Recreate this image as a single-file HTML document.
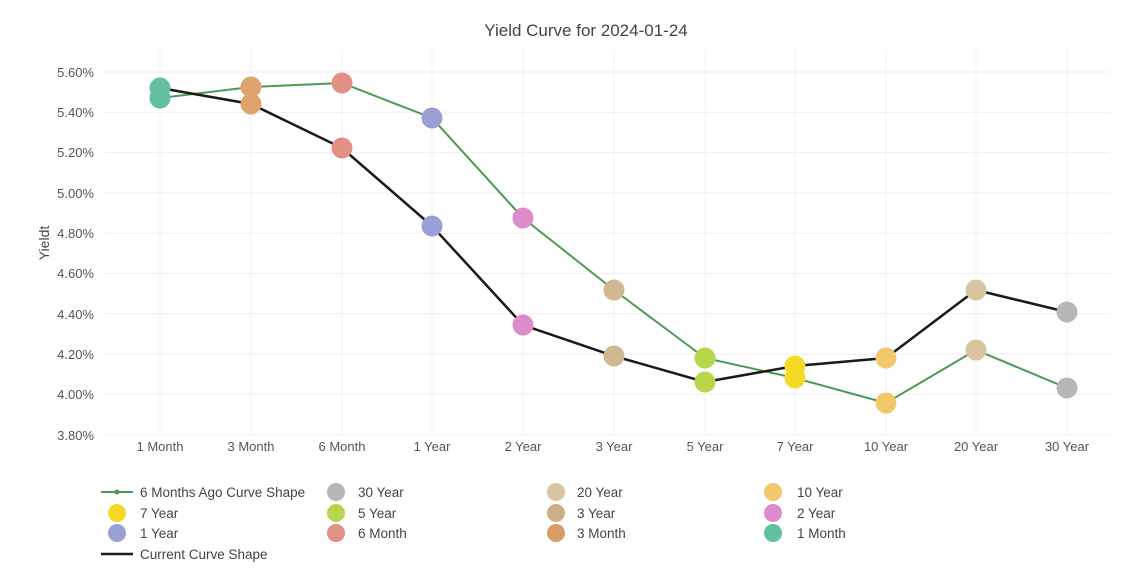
<!DOCTYPE html>
<html><head><meta charset="utf-8"><style>
html,body{margin:0;padding:0;background:#fff;}
svg{display:block;}
text{font-family:"Liberation Sans",Arial,sans-serif;}
</style></head><body>
<svg width="1122" height="586" viewBox="0 0 1122 586" xmlns="http://www.w3.org/2000/svg">
<rect width="1122" height="586" fill="#fff"/>
<text x="586" y="36" text-anchor="middle" font-size="17" fill="#444">Yield Curve for 2024-01-24</text>
<g stroke="#f1eef0" stroke-width="1">
<line x1="105" x2="1110" y1="72" y2="72"/>
<line x1="105" x2="1110" y1="112.3" y2="112.3"/>
<line x1="105" x2="1110" y1="152.6" y2="152.6"/>
<line x1="105" x2="1110" y1="192.9" y2="192.9"/>
<line x1="105" x2="1110" y1="233.2" y2="233.2"/>
<line x1="105" x2="1110" y1="273.5" y2="273.5"/>
<line x1="105" x2="1110" y1="313.8" y2="313.8"/>
<line x1="105" x2="1110" y1="354.1" y2="354.1"/>
<line x1="105" x2="1110" y1="394.4" y2="394.4"/>
<line x1="105" x2="1110" y1="434.7" y2="434.7"/>
</g>
<g stroke="#f6eff3" stroke-width="1">
<line x1="160" x2="160" y1="50" y2="435"/>
<line x1="251" x2="251" y1="50" y2="435"/>
<line x1="342" x2="342" y1="50" y2="435"/>
<line x1="432" x2="432" y1="50" y2="435"/>
<line x1="523" x2="523" y1="50" y2="435"/>
<line x1="614" x2="614" y1="50" y2="435"/>
<line x1="705" x2="705" y1="50" y2="435"/>
<line x1="795" x2="795" y1="50" y2="435"/>
<line x1="886" x2="886" y1="50" y2="435"/>
<line x1="976" x2="976" y1="50" y2="435"/>
<line x1="1067" x2="1067" y1="50" y2="435"/>
</g>
<g font-size="13" fill="#555" text-anchor="end">
<text x="94" y="77">5.60%</text>
<text x="94" y="117">5.40%</text>
<text x="94" y="157">5.20%</text>
<text x="94" y="198">5.00%</text>
<text x="94" y="238">4.80%</text>
<text x="94" y="278">4.60%</text>
<text x="94" y="319">4.40%</text>
<text x="94" y="359">4.20%</text>
<text x="94" y="399">4.00%</text>
<text x="94" y="440">3.80%</text>
</g>
<text transform="translate(49,243) rotate(-90)" text-anchor="middle" font-size="14" fill="#444">Yieldt</text>
<g font-size="13" fill="#555" text-anchor="middle">
<text x="160" y="451">1 Month</text>
<text x="251" y="451">3 Month</text>
<text x="342" y="451">6 Month</text>
<text x="432" y="451">1 Year</text>
<text x="523" y="451">2 Year</text>
<text x="614" y="451">3 Year</text>
<text x="705" y="451">5 Year</text>
<text x="795" y="451">7 Year</text>
<text x="886" y="451">10 Year</text>
<text x="976" y="451">20 Year</text>
<text x="1067" y="451">30 Year</text>
</g>
<polyline fill="none" stroke="#4b9a52" stroke-width="2" points="160,98 251,87 342,83 432,118 523,218 614,290 705,358 795,378 886,403 976,350 1067,388"/>
<polyline fill="none" stroke="#1a1a1a" stroke-width="2.5" points="160,88 251,104 342,148 432,226 523,325 614,356 705,382 795,366 886,358 976,290 1067,312"/>
<g>
<circle cx="1067" cy="312" r="10.5" fill="#b7b7b9"/>
<circle cx="1067" cy="388" r="10.5" fill="#b7b7b9"/>
<circle cx="976" cy="290" r="10.5" fill="#d8c4a0"/>
<circle cx="976" cy="350" r="10.5" fill="#d8c4a0"/>
<circle cx="886" cy="358" r="10.5" fill="#f3c86a"/>
<circle cx="886" cy="403" r="10.5" fill="#f3c86a"/>
<circle cx="795" cy="366" r="10.5" fill="#f5d927"/>
<circle cx="795" cy="378" r="10.5" fill="#f5d927"/>
<circle cx="705" cy="358" r="10.5" fill="#b8d64a"/>
<circle cx="705" cy="382" r="10.5" fill="#b8d64a"/>
<circle cx="614" cy="290" r="10.5" fill="#d1b890"/>
<circle cx="614" cy="356" r="10.5" fill="#d1b890"/>
<circle cx="523" cy="218" r="10.5" fill="#dc8ccb"/>
<circle cx="523" cy="325" r="10.5" fill="#dc8ccb"/>
<circle cx="432" cy="118" r="10.5" fill="#9a9fd6"/>
<circle cx="432" cy="226" r="10.5" fill="#9a9fd6"/>
<circle cx="342" cy="83" r="10.5" fill="#e28f86"/>
<circle cx="342" cy="148" r="10.5" fill="#e28f86"/>
<circle cx="251" cy="87" r="10.5" fill="#dea46c"/>
<circle cx="251" cy="104" r="10.5" fill="#dea46c"/>
<circle cx="160" cy="88" r="10.5" fill="#62bfa0"/>
<circle cx="160" cy="98" r="10.5" fill="#62bfa0"/>
</g>
<g font-size="13.5" fill="#444">
<line x1="101" x2="133" y1="492" y2="492" stroke="#4b9a52" stroke-width="2"/>
<circle cx="117" cy="492" r="2.5" fill="#4b9a52"/>
<text x="140" y="497">6 Months Ago Curve Shape</text>
<circle cx="117" cy="513" r="9" fill="#f5d927"/>
<text x="140" y="518">7 Year</text>
<circle cx="117" cy="533" r="9" fill="#9a9fd6"/>
<text x="140" y="538">1 Year</text>
<line x1="101" x2="133" y1="554" y2="554" stroke="#1a1a1a" stroke-width="2.5"/>
<text x="140" y="559">Current Curve Shape</text>

<circle cx="336" cy="492" r="9" fill="#b7b7b9"/>
<text x="358" y="497">30 Year</text>
<circle cx="336" cy="513" r="9" fill="#b8d64a"/>
<text x="358" y="518">5 Year</text>
<circle cx="336" cy="533" r="9" fill="#e28f86"/>
<text x="358" y="538">6 Month</text>

<circle cx="556" cy="492" r="9" fill="#d8c4a0"/>
<text x="577" y="497">20 Year</text>
<circle cx="556" cy="513" r="9" fill="#cdb088"/>
<text x="577" y="518">3 Year</text>
<circle cx="556" cy="533" r="9" fill="#d89e6a"/>
<text x="577" y="538">3 Month</text>

<circle cx="773" cy="492" r="9" fill="#f3c86a"/>
<text x="797" y="497">10 Year</text>
<circle cx="773" cy="513" r="9" fill="#dc8ccb"/>
<text x="797" y="518">2 Year</text>
<circle cx="773" cy="533" r="9" fill="#62bfa0"/>
<text x="797" y="538">1 Month</text>
</g>
</svg>
</body></html>
